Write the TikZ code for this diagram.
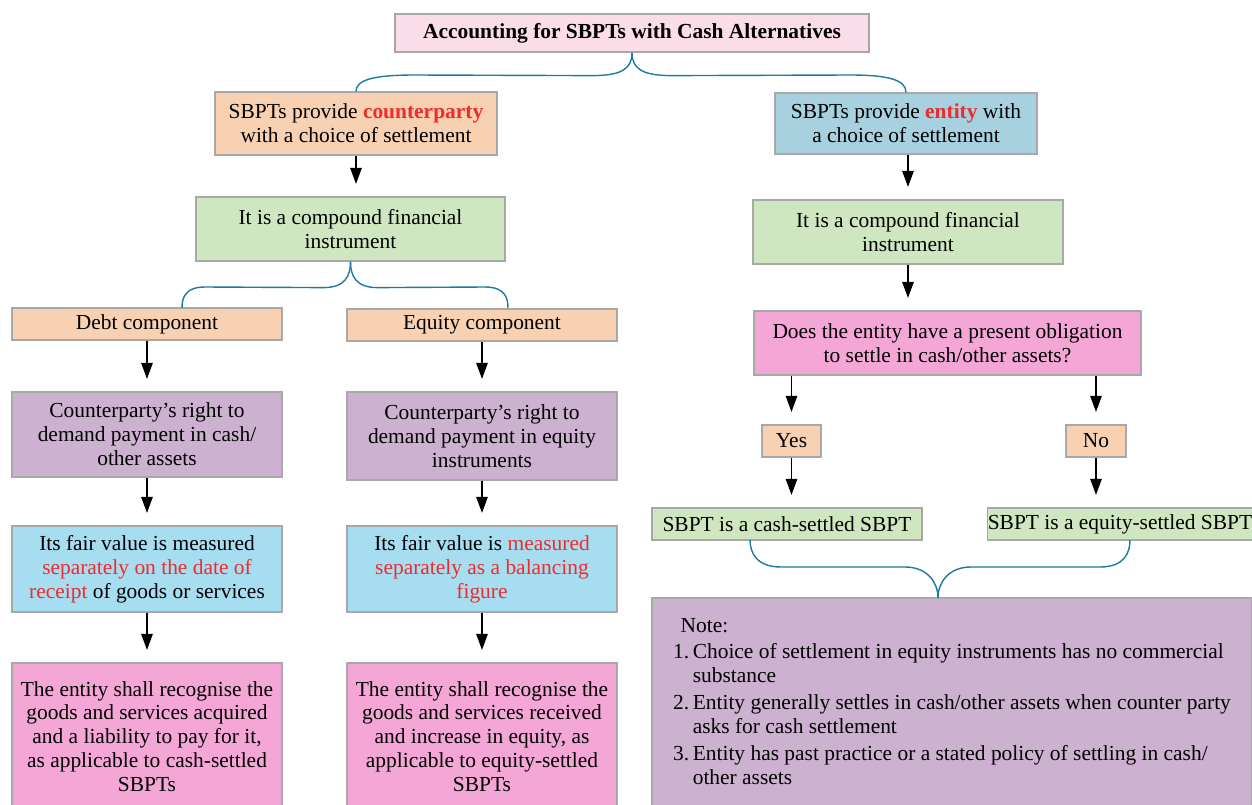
\documentclass[tikz,border=0pt]{standalone}
\usepackage{fontspec}
\setmainfont{Liberation Serif}
\usetikzlibrary{arrows.meta}
\definecolor{titlepink}{HTML}{FADDE8}
\definecolor{peach}{HTML}{F8D0B2}
\definecolor{steel}{HTML}{A7D1DE}
\definecolor{mint}{HTML}{CFE7C0}
\definecolor{lilac}{HTML}{CCB1D0}
\definecolor{sky}{HTML}{A7DDF0}
\definecolor{rose}{HTML}{F4A7D6}
\definecolor{bracecol}{HTML}{1B7BA3}
\definecolor{hl}{HTML}{EE2B2E}
\definecolor{edgegray}{HTML}{A8A8A8}
\tikzstyle{box} = [draw=edgegray, line width=0.7pt, inner sep=2pt,
  align=center, minimum width=5.4cm]
\tikzstyle{arrow} = [line width=0.7pt, -{Triangle[length=3.2mm,width=2.3mm]},
  shorten >=0.25cm]
\tikzstyle{brace} = [draw=bracecol, line width=0.8pt]

\begin{document}
\begin{tikzpicture}[x=0.02cm, y=-0.02cm,
    every node/.style={font=\fontsize{12.2}{13.6}\selectfont}]
    \useasboundingbox (0,0) rectangle (1252,805);
    % top
    \node[box,fill=titlepink,minimum width=9.48cm,minimum height=0.76cm] (title) at (632,33)
        {\textbf{Accounting for SBPTs with Cash Alternatives}};
    \node[box,fill=peach,minimum width=5.64cm,minimum height=1.26cm] (cpty) at (356,123.5)
        {SBPTs provide \textbf{\color{hl}counterparty}\\with a choice of settlement};
    \node[box,fill=steel,minimum width=5.24cm,minimum height=1.22cm] (ent) at (906,123.5)
        {SBPTs provide \textbf{\color{hl}entity} with\\a choice of settlement};
    % left branch
    \node[box,fill=mint,minimum width=6.18cm,minimum height=1.28cm] (compL) at (350.5,229)
        {It is a compound financial\\instrument};
    \node[box,fill=peach,minimum height=0.64cm] (debt) at (147,324) {Debt component};
    \node[box,fill=peach,minimum height=0.64cm] (eqc) at (482,325) {Equity component};
    \node[box,fill=lilac,minimum height=1.7cm] (rightL) at (147,434.5)
        {Counterparty’s right to\\demand payment in cash/\\other assets};
    \node[box,fill=lilac,minimum height=1.76cm] (rightR) at (482,436)
        {Counterparty’s right to\\demand payment in equity\\instruments};
    \node[box,fill=sky,minimum height=1.72cm] (fvL) at (147,569)
        {Its fair value is measured\\{\color{hl}separately on the date of}\\{\color{hl}receipt} of goods or services};
    \node[box,fill=sky,minimum height=1.72cm] (fvR) at (482,569)
        {Its fair value is {\color{hl}measured}\\{\color{hl}separately as a balancing}\\{\color{hl}figure}};
    \node[box,fill=rose,minimum height=2.94cm] (recL) at (147,736.5)
        {The entity shall recognise the\\goods and services acquired\\and a liability to pay for it,\\as applicable to cash-settled\\SBPTs};
    \node[box,fill=rose,minimum height=2.94cm] (recR) at (482,736.5)
        {The entity shall recognise the\\goods and services received\\and increase in equity, as\\applicable to equity-settled\\SBPTs};
    % right branch
    \node[box,fill=mint,minimum width=6.2cm,minimum height=1.28cm] (compR) at (908,232)
        {It is a compound financial\\instrument};
    \node[box,fill=rose,minimum width=7.74cm,minimum height=1.28cm] (ques) at (947.5,343)
        {Does the entity have a present obligation\\to settle in cash/other assets?};
    \node[box,fill=peach,minimum width=1.18cm,minimum height=0.64cm] (yes) at (791.5,441) {Yes};
    \node[box,fill=peach,minimum width=1.2cm,minimum height=0.64cm] (no) at (1096,441) {No};
    \node[box,fill=mint,minimum height=0.64cm] (cash) at (787,524) {SBPT is a cash-settled SBPT};
    \node[box,fill=mint,minimum width=5.28cm,minimum height=0.64cm,inner xsep=0pt] (eqs) at (1120,524)
        {SBPT is a equity-settled SBPT};
    \node[box,fill=lilac,minimum width=12cm,minimum height=4.24cm] (note) at (952,704)
        {\begin{tabular}{@{}l@{\,}l@{}}
         \multicolumn{2}{@{\hspace{0.15cm}}l@{}}{Note:}\\[1pt]
         1. & Choice of settlement in equity instruments has no commercial\\
            & substance\\[2pt]
         2. & Entity generally settles in cash/other assets when counter party\\
            & asks for cash settlement\\[2pt]
         3. & Entity has past practice or a stated policy of settling in cash/\\
            & other assets
         \end{tabular}};

    % brace ends
    \coordinate (db) at (182,308);
    \coordinate (qb) at (508,308);
    \coordinate (nb) at (938,598);
    \coordinate (cb) at (750,540);
    \coordinate (eb) at (1130,540);

    % braces
    \draw[brace] (title.south) .. controls +(0,16) and +(30,0) .. ++(-40,23)
        -- (415,75) .. controls +(-40,0) and +(0,-12) .. (cpty.north);
    \draw[brace] (title.south) .. controls +(0,16) and +(-30,0) .. ++(40,23)
        -- (850,75) .. controls +(40,0) and +(0,-12) .. (ent.north);
    \draw[brace] (compL.south) .. controls +(0,14) and +(22,0) .. ++(-27,26)
        -- (205,287) .. controls +(-20,0) and +(0,-10) .. (db);
    \draw[brace] (compL.south) .. controls +(0,14) and +(-22,0) .. ++(27,26)
        -- (485,287) .. controls +(20,0) and +(0,-10) .. (qb);
    \draw[brace] (nb) .. controls +(0,-16) and +(22,0) .. ++(-33,-31)
        -- (781,567) .. controls +(-25,0) and +(0,12) .. (cb);
    \draw[brace] (nb) .. controls +(0,-16) and +(-22,0) .. ++(33,-31)
        -- (1100,567) .. controls +(25,0) and +(0,12) .. (eb);

    % arrows
    \draw[arrow] (cpty.south) -- (cpty.south |- compL.north);
    \draw[arrow] (debt.south) -- (debt.south |- rightL.north);
    \draw[arrow] (eqc.south) -- (eqc.south |- rightR.north);
    \draw[arrow] (rightL.south) -- (rightL.south |- fvL.north);
    \draw[arrow] (rightR.south) -- (rightR.south |- fvR.north);
    \draw[arrow] (fvL.south) -- (fvL.south |- recL.north);
    \draw[arrow] (fvR.south) -- (fvR.south |- recR.north);
    \draw[arrow] (ent.south -| compR) -- (compR.north);
    \draw[arrow] (compR.south) -- (compR.south |- ques.north);
    \draw[arrow] (yes |- ques.south) -- (yes.north);
    \draw[arrow] (no |- ques.south) -- (no.north);
    \draw[arrow] (yes.south) -- (yes.south |- cash.north);
    \draw[arrow] (no.south) -- (no.south |- eqs.north);
\end{tikzpicture}
\end{document}
